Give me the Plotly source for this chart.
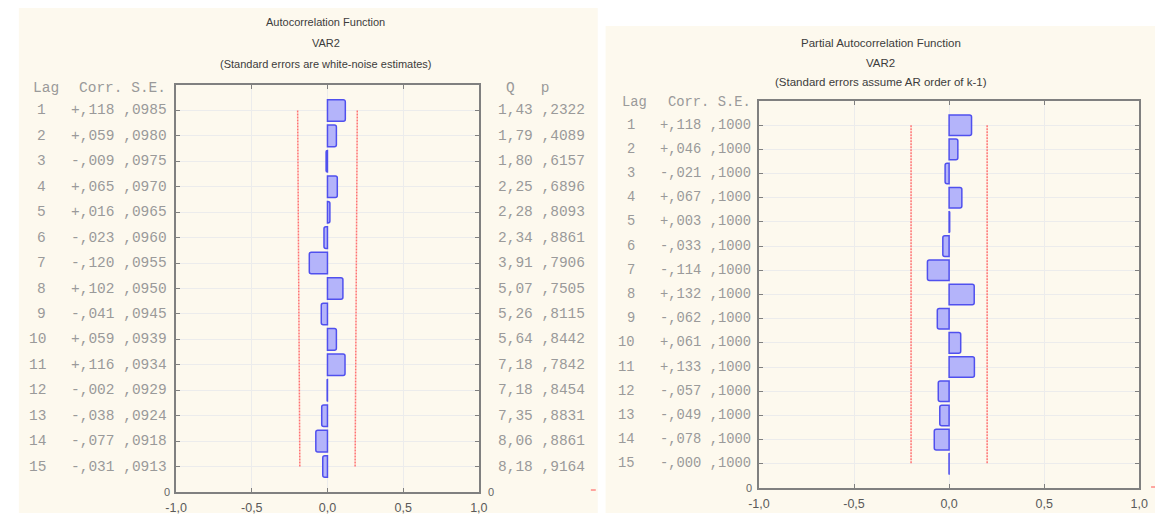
import plotly.graph_objects as go

W, H = 1164, 516

# ---- data -------------------------------------------------------------
lags = list(range(1, 16))

acf_corr = [0.118, 0.059, -0.009, 0.065, 0.016, -0.023, -0.120, 0.102,
            -0.041, 0.059, 0.116, -0.002, -0.038, -0.077, -0.031]
acf_se = [0.0985, 0.0980, 0.0975, 0.0970, 0.0965, 0.0960, 0.0955, 0.0950,
          0.0945, 0.0939, 0.0934, 0.0929, 0.0924, 0.0918, 0.0913]
acf_q = [1.43, 1.79, 1.80, 2.25, 2.28, 2.34, 3.91, 5.07,
         5.26, 5.64, 7.18, 7.18, 7.35, 8.06, 8.18]
acf_p = [0.2322, 0.4089, 0.6157, 0.6896, 0.8093, 0.8861, 0.7906, 0.7505,
         0.8115, 0.8442, 0.7842, 0.8454, 0.8831, 0.8861, 0.9164]

pacf_corr = [0.118, 0.046, -0.021, 0.067, 0.003, -0.033, -0.114, 0.132,
             -0.062, 0.061, 0.133, -0.057, -0.049, -0.078, -0.0004]
pacf_se = [0.1000] * 15

x_tick_vals = [-1.0, -0.5, 0.0, 0.5, 1.0]
x_tick_text = ["-1,0", "-0,5", "0,0", "0,5", "1,0"]

acf_titles = ["Autocorrelation Function", "VAR2",
              "(Standard errors are white-noise estimates)"]
pacf_titles = ["Partial Autocorrelation Function", "VAR2",
               "(Standard errors assume AR order of k-1)"]

# ---- styling ----------------------------------------------------------
PANEL_BG = "#fdf9ee"
BAR_FILL = "#b4b4fa"
BAR_EDGE = "#5050ee"
LIMIT_RED = "#ff7373"
AXIS_GREY = "#808080"
GRID_GREY = "#ececec"
TEXT_GREY = "#9a9a9a"
TITLE_COL = "#3c3c3c"
SANS = "Liberation Sans, Arial, sans-serif"
MONO = "Liberation Mono, Courier New, monospace"
NB = "\u00a0"


def px(x):
    return x / W


def py(y):
    return 1 - y / H


def fmt_corr(v):
    sign = "-" if v < 0 else "+"
    return sign + f"{abs(v):.3f}"[1:].replace(".", ",")


def fmt_frac(v, nd):
    return f"{v:.{nd}f}"[1:].replace(".", ",")


def fmt_q(v):
    return f"{v:.2f}".replace(".", ",")


# plot rectangles in pixels: (left, top, right, bottom)
ACF_BOX = (168, 85, 476, 492)
PACF_BOX = (761, 101, 1148, 488)

fig = go.Figure()

# correlation bars
fig.add_trace(go.Bar(
    x=acf_corr, y=lags, orientation="h", width=0.85,
    marker=dict(color=BAR_FILL, line=dict(color=BAR_EDGE, width=1.5), cornerradius=2),
    xaxis="x", yaxis="y", hoverinfo="skip"))
fig.add_trace(go.Bar(
    x=pacf_corr, y=lags, orientation="h", width=0.85,
    marker=dict(color=BAR_FILL, line=dict(color=BAR_EDGE, width=1.5), cornerradius=2),
    xaxis="x2", yaxis="y2", hoverinfo="skip"))

# +/- 2 standard error limits
for sgn in (-1, 1):
    fig.add_trace(go.Scatter(
        x=[sgn * 2 * s for s in acf_se], y=lags, mode="lines",
        line=dict(color=LIMIT_RED, width=1.5, dash="2px,1px"),
        xaxis="x", yaxis="y", hoverinfo="skip"))
    fig.add_trace(go.Scatter(
        x=[sgn * 2 * s for s in pacf_se], y=lags, mode="lines",
        line=dict(color=LIMIT_RED, width=1.5, dash="2px,1px"),
        xaxis="x2", yaxis="y2", hoverinfo="skip"))


def x_axis(box, anchor):
    return dict(
        domain=[px(box[0]), px(box[2])], anchor=anchor, range=[-1, 1],
        tickvals=x_tick_vals, ticktext=x_tick_text,
        tickfont=dict(family=SANS, size=12.5, color="#5a5a5a"),
        ticklabelstandoff=3,
        ticks="inside", ticklen=4, tickcolor=AXIS_GREY,
        showline=True, linecolor=AXIS_GREY, linewidth=2, mirror="ticks",
        showgrid=True, gridcolor=GRID_GREY, gridwidth=1, zeroline=False,
        fixedrange=True)


def y_axis(box, anchor):
    return dict(
        domain=[py(box[3]), py(box[1])], anchor=anchor, range=[16, 0],
        tickvals=lags, showticklabels=False,
        ticks="inside", ticklen=4, tickcolor=AXIS_GREY,
        showline=True, linecolor=AXIS_GREY, linewidth=2, mirror="ticks",
        showgrid=True, gridcolor=GRID_GREY, gridwidth=1, zeroline=False,
        fixedrange=True)


annotations = []


def note(text, x, y, yref="paper", xanchor="center", font=None, size=11, color=TITLE_COL):
    annotations.append(dict(
        text=text, x=x, y=y, xref="paper", yref=yref, xanchor=xanchor,
        yanchor="middle", showarrow=False,
        font=dict(family=font or SANS, size=size, color=color)))


# titles
for t, yy in zip(acf_titles, (22, 43, 64)):
    note(t, px(320), py(yy))
for t, yy in zip(pacf_titles, (43, 63, 82)):
    note(t, px(885), py(yy), size=11.5)

# left table (lag, corr, s.e.) and right-hand columns (Q, p)
note("Lag", px(20), 0.1, yref="y", xanchor="left", font=MONO, size=14.5, color=TEXT_GREY)
note("Corr." + NB + "S.E.", px(160), 0.1, yref="y", xanchor="right", font=MONO, size=14.5, color=TEXT_GREY)
note("Q" + NB * 3 + "p", px(502), 0.1, yref="y", xanchor="left", font=MONO, size=14.5, color=TEXT_GREY)
for lag, c, s, q, p in zip(lags, acf_corr, acf_se, acf_q, acf_p):
    note(str(lag), px(38), lag, yref="y", xanchor="right", font=MONO, size=14.5, color=TEXT_GREY)
    note(fmt_corr(c) + NB + fmt_frac(s, 4), px(161), lag, yref="y", xanchor="right",
         font=MONO, size=14.5, color=TEXT_GREY)
    note(fmt_q(q) + NB + fmt_frac(p, 4), px(493), lag, yref="y", xanchor="left",
         font=MONO, size=14.5, color=TEXT_GREY)

# right table
note("Lag", px(620), 0.05, yref="y2", xanchor="left", font=MONO, size=13.8, color=TEXT_GREY)
note("Corr." + NB + "S.E.", px(755), 0.05, yref="y2", xanchor="right", font=MONO, size=13.8, color=TEXT_GREY)
for lag, c, s in zip(lags, pacf_corr, pacf_se):
    note(str(lag), px(637), lag, yref="y2", xanchor="right", font=MONO, size=13.8, color=TEXT_GREY)
    note(fmt_corr(c) + NB + fmt_frac(s, 4), px(755), lag, yref="y2", xanchor="right",
         font=MONO, size=13.8, color=TEXT_GREY)

# bottom "0" of the lag axes
note("0", px(159), 16, yref="y", font=SANS, size=11, color="#666666")
note("0", px(488), 16, yref="y", font=SANS, size=11, color="#666666")
note("0", px(751), 16, yref="y2", font=SANS, size=11, color="#666666")

shapes = [
    dict(type="rect", xref="paper", yref="paper", layer="below",
         x0=px(8), x1=px(597), y0=py(513), y1=py(8),
         fillcolor=PANEL_BG, line=dict(width=0)),
    dict(type="rect", xref="paper", yref="paper", layer="below",
         x0=px(605), x1=px(1164), y0=py(513), y1=py(26),
         fillcolor=PANEL_BG, line=dict(width=0)),
    dict(type="line", xref="paper", yref="paper",
         x0=px(590), x1=px(595), y0=py(490), y1=py(490),
         line=dict(color="#ff5050", width=1)),
    dict(type="line", xref="paper", yref="paper",
         x0=px(1160), x1=px(1164), y0=py(487), y1=py(487),
         line=dict(color="#ff5050", width=1)),
]

fig.update_layout(
    width=W, height=H, margin=dict(l=0, r=0, t=0, b=0),
    paper_bgcolor="white", plot_bgcolor="white", showlegend=False,
    xaxis=x_axis(ACF_BOX, "y"), yaxis=y_axis(ACF_BOX, "x"),
    xaxis2=x_axis(PACF_BOX, "y2"), yaxis2=y_axis(PACF_BOX, "x2"),
    annotations=annotations, shapes=shapes)

fig.write_html("out.html")
